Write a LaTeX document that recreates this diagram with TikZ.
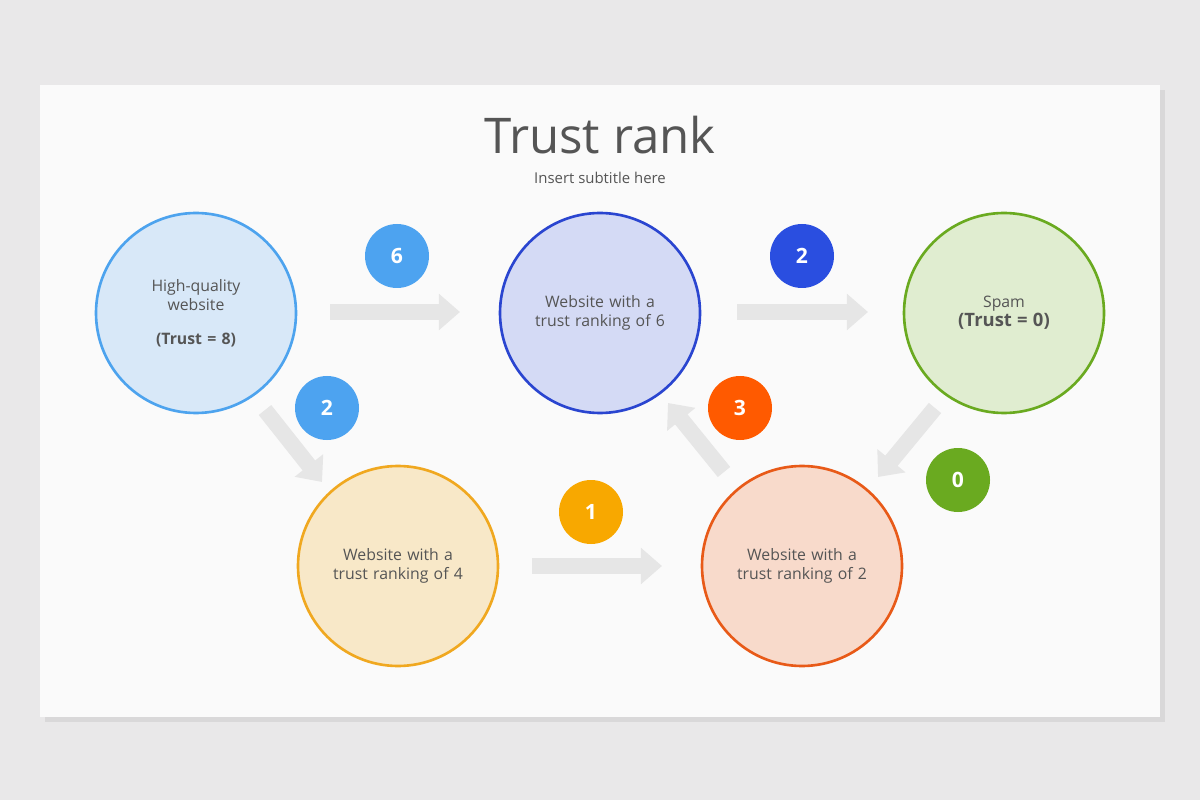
\documentclass[tikz,border=0pt]{standalone}
\usepackage{fontspec}
\setmainfont{Open Sans}
\usetikzlibrary{arrows.meta,shadows}
\definecolor{bgout}{HTML}{E9E8E9}
\definecolor{panel}{HTML}{FAFAFA}
\definecolor{txt}{HTML}{555555}
\definecolor{arr}{HTML}{E6E6E6}
\definecolor{bluefill}{HTML}{D8E8F8}\definecolor{blueline}{HTML}{4DA3EE}
\definecolor{navyfill}{HTML}{D4DAF5}\definecolor{navyline}{HTML}{2A45D0}
\definecolor{greenfill}{HTML}{E0EDD0}\definecolor{greenline}{HTML}{6AAA20}
\definecolor{yellowfill}{HTML}{F8E8C8}\definecolor{yellowline}{HTML}{F0A820}
\definecolor{redfill}{HTML}{F8DACB}\definecolor{redline}{HTML}{E85A18}
\definecolor{bluebadge}{HTML}{4DA3F0}
\definecolor{navybadge}{HTML}{2A4EE0}
\definecolor{redbadge}{HTML}{FF5A00}
\definecolor{yellowbadge}{HTML}{F8A800}
\tikzset{
  site/.style={circle, minimum size=200*0.02cm, line width=1.5pt, text width=2.6cm, align=center, font=\fontsize{9}{11}\selectfont, text=txt},
  badge/.style={circle, minimum size=64*0.02cm, fill=#1, text=white, font=\fontsize{12}{14}\selectfont\bfseries},
  flow/.style={line width=16*0.02cm, arr, -{Triangle[length=12pt,width=20pt]}}
}
\begin{document}
\begin{tikzpicture}[x=0.02cm,y=-0.02cm]
				\fill[bgout] (0,0) rectangle (1200,800);
				\fill[panel, drop shadow={opacity=0.15}] (40,85) rectangle (1160,717);
				% title
				\node[text=txt, font=\fontsize{28}{32}\selectfont] (title) at (600,135) {Trust rank};
				\node[text=txt, font=\fontsize{8.5}{10}\selectfont] (subtitle) at (600,178) {Insert subtitle here};
				% websites
				\node[site, fill=bluefill, draw=blueline] (high) at (196,313) {High-quality\\website\\[8pt]\textbf{(Trust = 8)}};
				\node[site, fill=navyfill, draw=navyline] (six) at (600,313) {Website with a\\trust ranking of 6};
				\node[site, fill=greenfill, draw=greenline] (spam) at (1004,313) {Spam\\\textbf{\fontsize{10.5}{12}\selectfont(Trust = 0)}};
				\node[site, fill=yellowfill, draw=yellowline] (four) at (398,566) {Website with a\\trust ranking of 4};
				\node[site, fill=redfill, draw=redline] (two) at (802,566) {Website with a\\trust ranking of 2};
				% flows
				\coordinate (a1) at (330,312); \coordinate (b1) at (460,312);
				\coordinate (a2) at (737,312); \coordinate (b2) at (868,312);
				\coordinate (a3) at (265,410); \coordinate (b3) at (322,482);
				\coordinate (a4) at (532,566); \coordinate (b4) at (662,566);
				\coordinate (a5) at (724,472); \coordinate (b5) at (668,403);
				\coordinate (a6) at (935,408); \coordinate (b6) at (878,477);
				\foreach \s/\e in {a1/b1,a2/b2,a3/b3,a4/b4,a5/b5,a6/b6}
					\draw[flow] (\s) -- (\e);
				% badges
				\node[badge=bluebadge] (w6) at (397,256) {6};
				\node[badge=navybadge] (w2a) at (802,256) {2};
				\node[badge=bluebadge] (w2b) at (327,408) {2};
				\node[badge=redbadge] (w3) at (740,408) {3};
				\node[badge=greenline] (w0) at (958,480) {0};
				\node[badge=yellowbadge] (w1) at (591,512) {1};
			\end{tikzpicture}
\end{document}
